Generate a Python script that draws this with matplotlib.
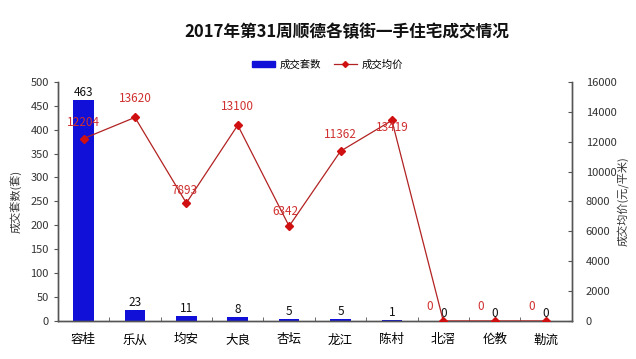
import numpy as np
import matplotlib
matplotlib.use("Agg")
import matplotlib.pyplot as plt

plt.rcParams['font.family'] = ['Noto Sans CJK SC', 'DejaVu Sans']

towns = ["容桂", "乐从", "均安", "大良", "杏坛", "龙江", "陈村", "北滘", "伦教", "勒流"]
units = [463, 23, 11, 8, 5, 5, 1, 0, 0, 0]
prices = [12204, 13620, 7893, 13100, 6342, 11362, 13419, 0, 0, 0]

# label offsets (px) for the price labels
price_off = [(0, 10), (0, 12), (-2, 6), (0, 12), (-4, 8), (0, 10), (0, -14), (-14, 8), (-14, 8), (-14, 8)]

fig = plt.figure(figsize=(6.36, 3.59), dpi=100)
ax = fig.add_axes([0.091, 0.106, 0.808, 0.666])
ax2 = ax.twinx()

x = np.arange(len(towns))
bars = ax.bar(x, units, width=0.4, color="#1010D8", zorder=2)
for xi, v in zip(x, units):
    ax.annotate(str(v), (xi, v), xytext=(0, 1), textcoords="offset pixels",
                ha="center", va="bottom", fontsize=8.5, color="#111111")

ax2.plot(x, prices, color="#B22222", lw=0.9, marker="D", ms=4,
         mfc="#D01010", mec="#D01010", zorder=3)
for xi, v, (dx, dy) in zip(x, prices, price_off):
    ax2.annotate(str(v), (xi, v), xytext=(dx, dy), textcoords="offset pixels",
                 ha="center", va="bottom", fontsize=8.5, color="#D03030")

ax.set_xlim(-0.5, len(towns) - 0.5)
ax.set_ylim(0, 500)
ax.set_yticks(np.arange(0, 501, 50))
ax2.set_ylim(0, 16000)
ax2.set_yticks(np.arange(0, 16001, 2000))
ax.set_xticks(x)
ax.set_xticklabels(towns, fontsize=9)
ax.set_xticks(np.arange(0.5, len(towns) - 0.5, 1), minor=True)
ax.tick_params(axis="x", which="major", length=0, pad=9)
ax.tick_params(axis="x", which="minor", length=3, direction="in", color="#555555")
ax.tick_params(axis="y", labelsize=8, length=3, color="#555555", labelcolor="#333333")
ax2.tick_params(axis="y", labelsize=8, length=3, direction="in", color="#555555",
                labelcolor="#333333", pad=10)

for a in (ax, ax2):
    a.spines["top"].set_visible(False)
    for s in ("left", "right", "bottom"):
        a.spines[s].set_color("#555555")
        a.spines[s].set_linewidth(1.0)

ax.set_ylabel("成交套数(套)", fontsize=8, color="#333333", labelpad=6)
ax2.set_ylabel("成交均价(元/平米)", fontsize=8, color="#333333", rotation=90, labelpad=0)

fig.text(0.545, 0.91, "2017年第31周顺德各镇街一手住宅成交情况", ha="center", va="center",
         fontsize=12, fontweight="bold", color="#111111")

h1 = plt.Rectangle((0, 0), 1, 1, color="#1010D8")
h2, = ax2.plot([], [], color="#B22222", lw=0.9, marker="D", ms=3, mfc="#D01010", mec="#D01010")
fig.legend([h1, h2], ["成交套数", "成交均价"], loc="center", bbox_to_anchor=(0.515, 0.82),
           ncol=2, frameon=False, fontsize=7.5, handlelength=2.2, handleheight=0.5,
           columnspacing=1.2, handletextpad=0.5)

fig.savefig("out.png", dpi=100)
